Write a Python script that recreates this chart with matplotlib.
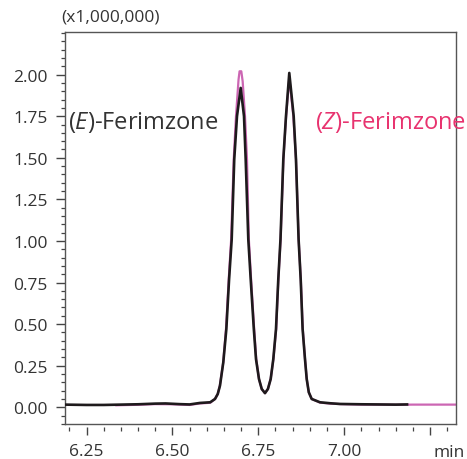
import matplotlib.pyplot as plt
import numpy as np

plt.rcParams['font.family'] = ['Open Sans', 'DejaVu Sans']
plt.rcParams['mathtext.fontset'] = 'custom'
plt.rcParams['mathtext.rm'] = 'Open Sans'
plt.rcParams['mathtext.it'] = 'Open Sans:italic'

# (E)-Ferimzone trace (min, x1,000,000 counts)
e_time = [6.186, 6.25, 6.30, 6.35, 6.40, 6.45, 6.48, 6.52, 6.55, 6.58, 6.61,
          6.624, 6.632, 6.6385, 6.6481, 6.657, 6.665, 6.6726, 6.680, 6.688,
          6.6988, 6.7084, 6.7133, 6.7209, 6.7279, 6.737, 6.7433, 6.752, 6.760,
          6.7695, 6.778, 6.7861, 6.7937, 6.8015, 6.8082, 6.8146, 6.8228,
          6.8306, 6.8402, 6.853, 6.8597, 6.8673, 6.8734, 6.879, 6.8859,
          6.8909, 6.897, 6.9054, 6.9296, 6.96, 6.9878, 7.05, 7.10, 7.15, 7.183]
e_int = [0.016, 0.014, 0.014, 0.016, 0.018, 0.022, 0.023, 0.019, 0.017, 0.026,
         0.030, 0.05, 0.08, 0.13, 0.27, 0.47, 0.77, 1.01, 1.49, 1.75,
         1.92, 1.75, 1.49, 1.01, 0.77, 0.47, 0.29, 0.17, 0.11,
         0.085, 0.11, 0.17, 0.29, 0.47, 0.77, 1.01, 1.49,
         1.75, 2.01, 1.75, 1.49, 1.01, 0.77, 0.47, 0.29,
         0.17, 0.09, 0.05, 0.03, 0.024, 0.02, 0.018, 0.017, 0.016, 0.017]

# (Z)-Ferimzone trace
z_time = [6.337, 6.40, 6.45, 6.50, 6.55, 6.58, 6.61, 6.624, 6.632, 6.638,
          6.648, 6.656, 6.664, 6.671, 6.6785, 6.6851, 6.6925, 6.6955, 6.7005,
          6.7045, 6.7113, 6.7171, 6.7225, 6.729, 6.738, 6.744, 6.752, 6.760,
          6.7695, 6.778, 6.786, 6.794, 6.802, 6.8085, 6.815, 6.823, 6.831,
          6.8402, 6.852, 6.8597, 6.8675, 6.8737, 6.8795, 6.886, 6.891, 6.897,
          6.9055, 6.93, 6.96, 6.99, 7.05, 7.10, 7.15, 7.20, 7.25, 7.3254]
z_int = [0.012, 0.015, 0.019, 0.018, 0.014, 0.023, 0.027, 0.05, 0.08, 0.13,
         0.27, 0.47, 0.77, 1.01, 1.49, 1.75, 1.97, 2.02, 2.02,
         1.96, 1.75, 1.49, 1.01, 0.77, 0.47, 0.29, 0.17, 0.11,
         0.085, 0.11, 0.17, 0.29, 0.47, 0.77, 1.01, 1.49, 1.75,
         1.98, 1.75, 1.49, 1.01, 0.77, 0.47, 0.29, 0.17, 0.09,
         0.05, 0.028, 0.022, 0.019, 0.016, 0.016, 0.015, 0.016, 0.016, 0.016]

x_ticks = [6.25, 6.50, 6.75, 7.00, 7.25]
x_labels = ['6.25', '6.50', '6.75', '7.00', '']
y_ticks = [0.00, 0.25, 0.50, 0.75, 1.00, 1.25, 1.50, 1.75, 2.00]

text_c = '#333333'
frame_c = '#555555'
fig = plt.figure(figsize=(4.67, 4.60), dpi=100)
ax = fig.add_axes([0.1392, 0.0761, 0.8372, 0.8522])

ax.plot(z_time, z_int, color='#cc66b3', lw=1.6, zorder=2,
        solid_joinstyle='round')
ax.plot(e_time, e_int, color='#1e1a1c', lw=1.9, zorder=3,
        solid_joinstyle='round')

ax.set_xlim(6.1874, 7.3254)
ax.set_ylim(-0.1005, 2.2563)

ax.set_xticks(x_ticks)
ax.set_xticklabels(x_labels)
ax.set_xticks(np.arange(6.20, 7.33, 0.05), minor=True)
ax.set_yticks(y_ticks)
ax.set_yticklabels(['%.2f' % v for v in y_ticks])
ax.set_yticks(np.arange(-0.10, 2.26, 0.05), minor=True)

ax.tick_params(axis='y', which='major', direction='out', length=6.5, width=1.0,
               color='#444444', labelsize=12.5, labelcolor=text_c, pad=6)
ax.tick_params(axis='x', which='major', direction='out', length=6, width=1.0,
               color='#444444', labelsize=12.5, labelcolor=text_c, pad=5)
ax.tick_params(which='minor', direction='out', length=3, width=0.9,
               color='#444444')
for s in ax.spines.values():
    s.set_color(frame_c)
    s.set_linewidth(1.0)

# x ticks sit a little below the frame, so move the spine and redraw the frame
ax.spines['bottom'].set_position(('outward', 2.5))
ax.spines['bottom'].set_visible(False)
ax.plot([0, 1], [0, 0], transform=ax.transAxes, color=frame_c, lw=1.0,
        clip_on=False, zorder=4)

ax.text(-0.01, 1.02, '(x1,000,000)', transform=ax.transAxes, fontsize=12.5,
        color=text_c, ha='left', va='bottom')
ax.text(7.305, -0.071, 'min', transform=ax.get_xaxis_transform(),
        fontsize=12.5, color=text_c, ha='center', va='center')

ax.text(6.1965, 1.68, r'($\mathit{E}$)-Ferimzone', fontsize=17, color=text_c,
        ha='left', va='baseline')
ax.text(6.914, 1.68, r'($\mathit{Z}$)-Ferimzone', fontsize=17,
        color='#e8336f', ha='left', va='baseline', clip_on=False)

plt.savefig('out.png', dpi=100)
